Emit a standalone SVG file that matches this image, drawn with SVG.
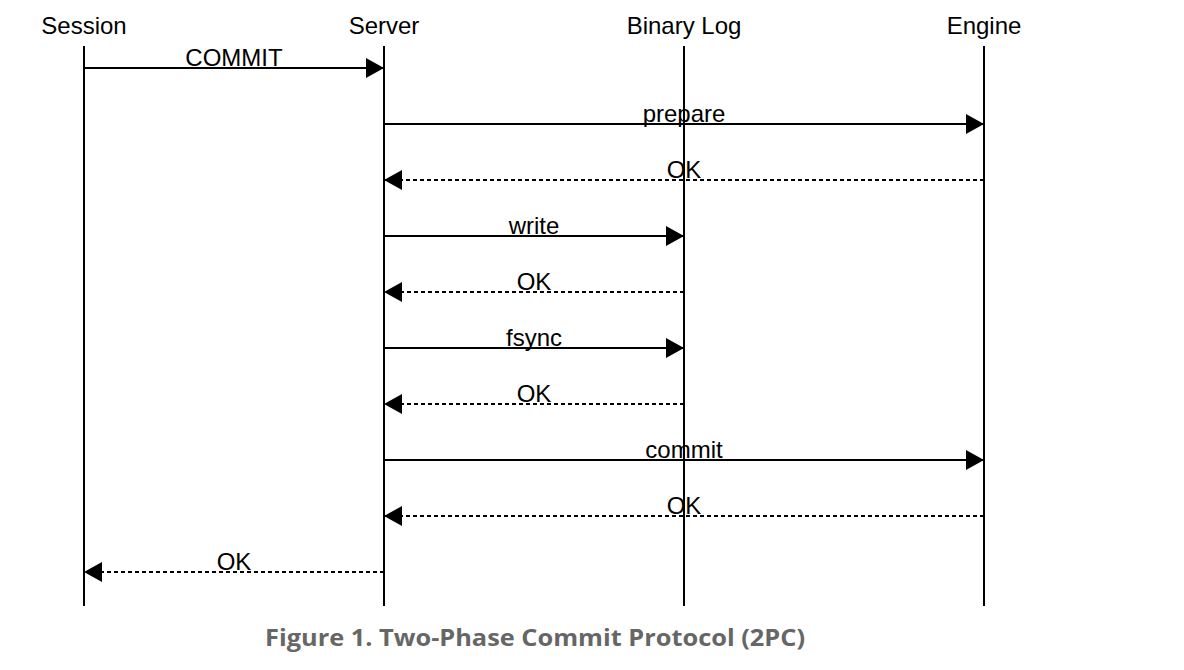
<svg xmlns="http://www.w3.org/2000/svg" width="1184" height="670" viewBox="0 0 1184 670">
<style>
.hdr{font-family:"Liberation Sans",Arial,sans-serif;font-size:24px;fill:#000;text-anchor:middle}
.lbl{font-family:"Liberation Sans",Arial,sans-serif;font-size:24px;fill:#000;text-anchor:middle}
.life{stroke:#000;stroke-width:2;fill:none}
.msg{stroke:#000;stroke-width:2;fill:none;marker-end:url(#ah)}
.ret{stroke:#000;stroke-width:2;fill:none;stroke-dasharray:4 3;marker-end:url(#ah)}
.cap{font-family:"Open Sans","DejaVu Sans",sans-serif;font-size:23px;font-weight:bold;fill:#666;text-anchor:middle}
</style>
<defs>
<marker id="ah" markerUnits="userSpaceOnUse" markerWidth="20" markerHeight="22" refX="18" refY="11" orient="auto">
<path d="M0,1 L18,11 L0,21 Z" fill="#000"/>
</marker>
</defs>
<rect width="1184" height="670" fill="#fff"/>
<g id="session"><text class="hdr" x="84" y="34">Session</text><line class="life" x1="84" y1="46" x2="84" y2="606"/></g>
<g id="server"><text class="hdr" x="384" y="34">Server</text><line class="life" x1="384" y1="46" x2="384" y2="606"/></g>
<g id="binlog"><text class="hdr" x="684" y="34">Binary Log</text><line class="life" x1="684" y1="46" x2="684" y2="606"/></g>
<g id="engine"><text class="hdr" x="984" y="34">Engine</text><line class="life" x1="984" y1="46" x2="984" y2="606"/></g>
<g id="connectors">
<line class="msg" x1="84" y1="68" x2="384" y2="68"/><text class="lbl" x="234" y="66">COMMIT</text>
<line class="msg" x1="384" y1="124" x2="984" y2="124"/><text class="lbl" x="684" y="122">prepare</text>
<line class="ret" x1="984" y1="180" x2="384" y2="180"/><text class="lbl" x="684" y="178">OK</text>
<line class="msg" x1="384" y1="236" x2="684" y2="236"/><text class="lbl" x="534" y="234">write</text>
<line class="ret" x1="684" y1="292" x2="384" y2="292"/><text class="lbl" x="534" y="290">OK</text>
<line class="msg" x1="384" y1="348" x2="684" y2="348"/><text class="lbl" x="534" y="346">fsync</text>
<line class="ret" x1="684" y1="404" x2="384" y2="404"/><text class="lbl" x="534" y="402">OK</text>
<line class="msg" x1="384" y1="460" x2="984" y2="460"/><text class="lbl" x="684" y="458">commit</text>
<line class="ret" x1="984" y1="516" x2="384" y2="516"/><text class="lbl" x="684" y="514">OK</text>
<line class="ret" x1="384" y1="572" x2="84" y2="572"/><text class="lbl" x="234" y="570">OK</text>
</g>
<text class="cap" x="535" y="646" textLength="540" lengthAdjust="spacingAndGlyphs">Figure 1. Two-Phase Commit Protocol (2PC)</text>
</svg>
